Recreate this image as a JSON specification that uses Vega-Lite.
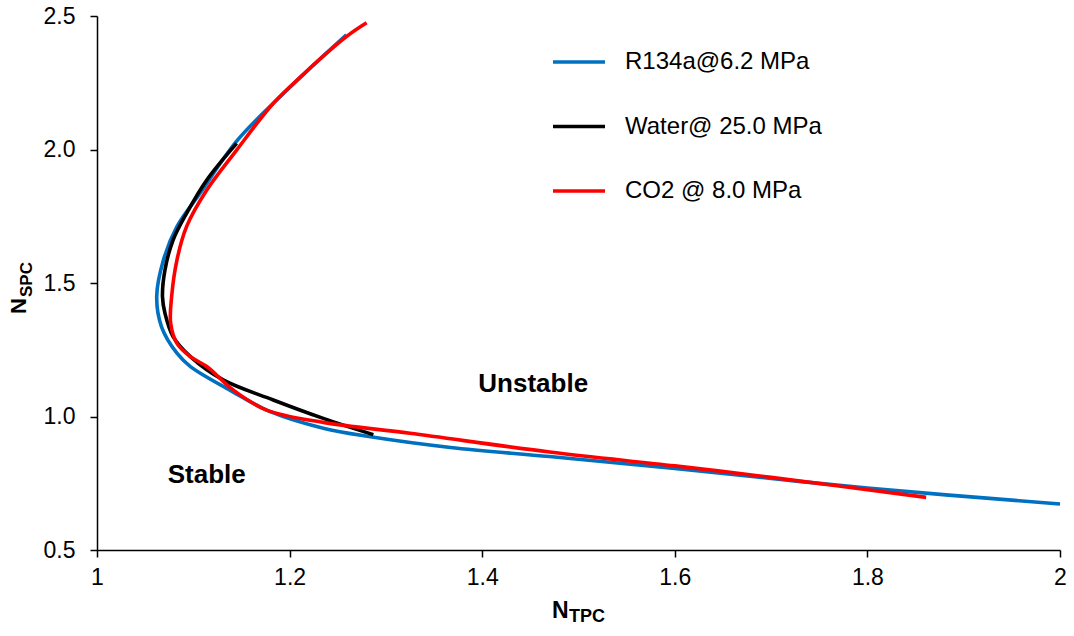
{
  "$schema": "https://vega.github.io/schema/vega-lite/v6.json",
  "autosize": "none",
  "width": 963,
  "height": 534,
  "padding": {"left": 97, "top": 16, "right": 14, "bottom": 86},
  "background": "white",
  "config": {
    "view": {"stroke": null},
    "font": "Liberation Sans, Arial",
    "axis": {
      "grid": false,
      "domainColor": "black",
      "domainWidth": 1.5,
      "tickColor": "black",
      "tickWidth": 1.5,
      "tickSize": 7,
      "labelColor": "black",
      "labelFont": "Liberation Sans, Arial",
      "title": null
    }
  },
  "datasets": {
    "curves": [
      {"fluid": "R134a@6.2 MPa", "i": 1, "ntpc": 1.259, "nspc": 2.429},
      {"fluid": "R134a@6.2 MPa", "i": 2, "ntpc": 1.220, "nspc": 2.300},
      {"fluid": "R134a@6.2 MPa", "i": 3, "ntpc": 1.183, "nspc": 2.173},
      {"fluid": "R134a@6.2 MPa", "i": 4, "ntpc": 1.145, "nspc": 2.031},
      {"fluid": "R134a@6.2 MPa", "i": 5, "ntpc": 1.107, "nspc": 1.836},
      {"fluid": "R134a@6.2 MPa", "i": 6, "ntpc": 1.083, "nspc": 1.711},
      {"fluid": "R134a@6.2 MPa", "i": 7, "ntpc": 1.069, "nspc": 1.586},
      {"fluid": "R134a@6.2 MPa", "i": 8, "ntpc": 1.062, "nspc": 1.449},
      {"fluid": "R134a@6.2 MPa", "i": 9, "ntpc": 1.067, "nspc": 1.336},
      {"fluid": "R134a@6.2 MPa", "i": 10, "ntpc": 1.083, "nspc": 1.237},
      {"fluid": "R134a@6.2 MPa", "i": 11, "ntpc": 1.097, "nspc": 1.187},
      {"fluid": "R134a@6.2 MPa", "i": 12, "ntpc": 1.138, "nspc": 1.099},
      {"fluid": "R134a@6.2 MPa", "i": 13, "ntpc": 1.180, "nspc": 1.018},
      {"fluid": "R134a@6.2 MPa", "i": 14, "ntpc": 1.235, "nspc": 0.956},
      {"fluid": "R134a@6.2 MPa", "i": 15, "ntpc": 1.284, "nspc": 0.924},
      {"fluid": "R134a@6.2 MPa", "i": 16, "ntpc": 1.367, "nspc": 0.884},
      {"fluid": "R134a@6.2 MPa", "i": 17, "ntpc": 1.470, "nspc": 0.850},
      {"fluid": "R134a@6.2 MPa", "i": 18, "ntpc": 1.600, "nspc": 0.805},
      {"fluid": "R134a@6.2 MPa", "i": 19, "ntpc": 1.800, "nspc": 0.732},
      {"fluid": "R134a@6.2 MPa", "i": 20, "ntpc": 2.000, "nspc": 0.672},

      {"fluid": "Water@ 25.0 MPa", "i": 1, "ntpc": 1.145, "nspc": 2.023},
      {"fluid": "Water@ 25.0 MPa", "i": 2, "ntpc": 1.114, "nspc": 1.886},
      {"fluid": "Water@ 25.0 MPa", "i": 3, "ntpc": 1.093, "nspc": 1.761},
      {"fluid": "Water@ 25.0 MPa", "i": 4, "ntpc": 1.079, "nspc": 1.661},
      {"fluid": "Water@ 25.0 MPa", "i": 5, "ntpc": 1.0706, "nspc": 1.549},
      {"fluid": "Water@ 25.0 MPa", "i": 6, "ntpc": 1.068, "nspc": 1.449},
      {"fluid": "Water@ 25.0 MPa", "i": 7, "ntpc": 1.0706, "nspc": 1.386},
      {"fluid": "Water@ 25.0 MPa", "i": 8, "ntpc": 1.079, "nspc": 1.299},
      {"fluid": "Water@ 25.0 MPa", "i": 9, "ntpc": 1.097, "nspc": 1.224},
      {"fluid": "Water@ 25.0 MPa", "i": 10, "ntpc": 1.131, "nspc": 1.137},
      {"fluid": "Water@ 25.0 MPa", "i": 11, "ntpc": 1.183, "nspc": 1.062},
      {"fluid": "Water@ 25.0 MPa", "i": 12, "ntpc": 1.235, "nspc": 0.993},
      {"fluid": "Water@ 25.0 MPa", "i": 13, "ntpc": 1.287, "nspc": 0.932},

      {"fluid": "CO2 @ 8.0 MPa", "i": 1, "ntpc": 1.280, "nspc": 2.475},
      {"fluid": "CO2 @ 8.0 MPa", "i": 2, "ntpc": 1.259, "nspc": 2.423},
      {"fluid": "CO2 @ 8.0 MPa", "i": 3, "ntpc": 1.2004, "nspc": 2.235},
      {"fluid": "CO2 @ 8.0 MPa", "i": 4, "ntpc": 1.180, "nspc": 2.160},
      {"fluid": "CO2 @ 8.0 MPa", "i": 5, "ntpc": 1.145, "nspc": 1.998},
      {"fluid": "CO2 @ 8.0 MPa", "i": 6, "ntpc": 1.114, "nspc": 1.848},
      {"fluid": "CO2 @ 8.0 MPa", "i": 7, "ntpc": 1.093, "nspc": 1.711},
      {"fluid": "CO2 @ 8.0 MPa", "i": 8, "ntpc": 1.083, "nspc": 1.586},
      {"fluid": "CO2 @ 8.0 MPa", "i": 9, "ntpc": 1.0775, "nspc": 1.449},
      {"fluid": "CO2 @ 8.0 MPa", "i": 10, "ntpc": 1.0765, "nspc": 1.349},
      {"fluid": "CO2 @ 8.0 MPa", "i": 11, "ntpc": 1.083, "nspc": 1.274},
      {"fluid": "CO2 @ 8.0 MPa", "i": 12, "ntpc": 1.097, "nspc": 1.224},
      {"fluid": "CO2 @ 8.0 MPa", "i": 13, "ntpc": 1.114, "nspc": 1.187},
      {"fluid": "CO2 @ 8.0 MPa", "i": 14, "ntpc": 1.1415, "nspc": 1.099},
      {"fluid": "CO2 @ 8.0 MPa", "i": 15, "ntpc": 1.176, "nspc": 1.024},
      {"fluid": "CO2 @ 8.0 MPa", "i": 16, "ntpc": 1.235, "nspc": 0.978},
      {"fluid": "CO2 @ 8.0 MPa", "i": 17, "ntpc": 1.325, "nspc": 0.937},
      {"fluid": "CO2 @ 8.0 MPa", "i": 18, "ntpc": 1.470, "nspc": 0.867},
      {"fluid": "CO2 @ 8.0 MPa", "i": 19, "ntpc": 1.600, "nspc": 0.815},
      {"fluid": "CO2 @ 8.0 MPa", "i": 20, "ntpc": 1.700, "nspc": 0.772},
      {"fluid": "CO2 @ 8.0 MPa", "i": 21, "ntpc": 1.861, "nspc": 0.697}
    ],
    "regions": [
      {"label": "Unstable", "ntpc": 1.453, "nspc": 1.12},
      {"label": "Stable", "ntpc": 1.114, "nspc": 0.78}
    ]
  },
  "layer": [
    {
      "data": {"name": "curves"},
      "mark": {"type": "line", "strokeWidth": 3.6, "interpolate": "catmull-rom", "clip": false},
      "encoding": {
        "x": {
          "field": "ntpc",
          "type": "quantitative",
          "scale": {"domain": [1, 2], "nice": false, "zero": false},
          "axis": {
            "values": [1, 1.2, 1.4, 1.6, 1.8, 2],
            "format": "~g",
            "labelFontSize": 23,
            "labelPadding": 9,
            "labelFlush": false
          }
        },
        "y": {
          "field": "nspc",
          "type": "quantitative",
          "scale": {"domain": [0.5, 2.5], "nice": false, "zero": false},
          "axis": {
            "values": [0.5, 1, 1.5, 2, 2.5],
            "format": ".1f",
            "labelFontSize": 23,
            "labelPadding": 15,
            "labelFlush": false
          }
        },
        "order": {"field": "i", "type": "quantitative"},
        "color": {
          "field": "fluid",
          "type": "nominal",
          "scale": {
            "domain": ["R134a@6.2 MPa", "Water@ 25.0 MPa", "CO2 @ 8.0 MPa"],
            "range": ["#0070C0", "#000000", "#FF0000"]
          },
          "legend": {
            "orient": "none",
            "legendX": 454,
            "legendY": 18,
            "title": null,
            "padding": 0,
            "symbolType": "stroke",
            "symbolSize": 2704,
            "symbolStrokeWidth": 3.6,
            "rowPadding": 24.5,
            "labelOffset": 18,
            "labelFontSize": 24,
            "labelColor": "black",
            "labelLimit": 400
          }
        }
      }
    },
    {
      "data": {"name": "regions"},
      "mark": {"type": "text", "fontWeight": "bold", "fontSize": 26, "align": "center", "baseline": "middle", "color": "black"},
      "encoding": {
        "x": {"field": "ntpc", "type": "quantitative"},
        "y": {"field": "nspc", "type": "quantitative"},
        "text": {"field": "label"}
      }
    },
    {
      "data": {"values": [{}]},
      "mark": {"type": "text", "text": "N", "fontWeight": "bold", "fontSize": 23, "align": "left", "baseline": "alphabetic", "color": "black", "clip": false},
      "encoding": {
        "x": {"datum": 1.4725, "type": "quantitative"},
        "y": {"datum": 0.2453, "type": "quantitative"}
      }
    },
    {
      "data": {"values": [{}]},
      "mark": {"type": "text", "text": "TPC", "fontWeight": "bold", "fontSize": 18, "align": "left", "baseline": "alphabetic", "color": "black", "clip": false},
      "encoding": {
        "x": {"datum": 1.4901, "type": "quantitative"},
        "y": {"datum": 0.2303, "type": "quantitative"}
      }
    },
    {
      "data": {"values": [{}]},
      "mark": {"type": "text", "text": "N", "fontWeight": "bold", "fontSize": 22, "angle": 270, "align": "left", "baseline": "alphabetic", "color": "black", "clip": false},
      "encoding": {
        "x": {"datum": 0.9263, "type": "quantitative"},
        "y": {"datum": 1.384, "type": "quantitative"}
      }
    },
    {
      "data": {"values": [{}]},
      "mark": {"type": "text", "text": "SPC", "fontWeight": "bold", "fontSize": 17, "angle": 270, "align": "left", "baseline": "alphabetic", "color": "black", "clip": false},
      "encoding": {
        "x": {"datum": 0.9325, "type": "quantitative"},
        "y": {"datum": 1.4476, "type": "quantitative"}
      }
    }
  ]
}
